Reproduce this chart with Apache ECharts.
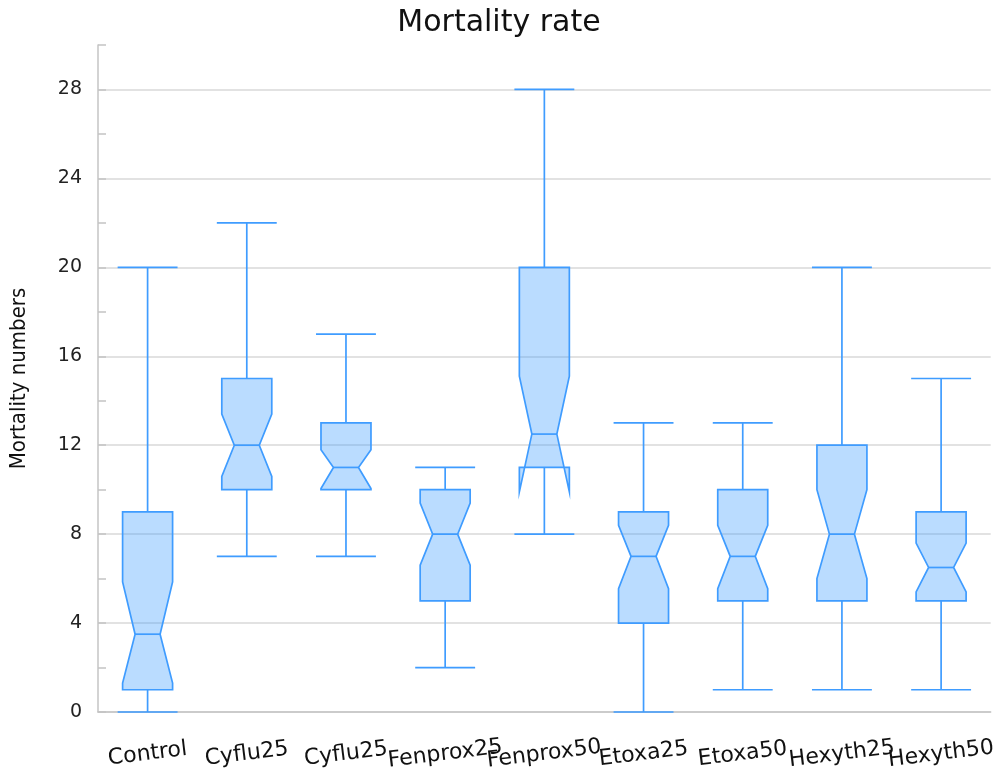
<!DOCTYPE html>
<html>
<head>
<meta charset="utf-8">
<script src="https://cdn.jsdelivr.net/npm/echarts@6/dist/echarts.min.js"></script>
<style>
  html, body { margin: 0; padding: 0; background: #fff; }
  #chart { width: 998px; height: 776px; }
</style>
</head>
<body>
<div id="chart"></div>
<script>
// ---- data ----
const categories = ['Control', 'Cyflu25', 'Cyflu25', 'Fenprox25', 'Fenprox50', 'Etoxa25', 'Etoxa50', 'Hexyth25', 'Hexyth50'];
const whiskerLow  = [0, 7, 7, 2, 8, 0, 1, 1, 1];
const q1Values    = [1, 10, 10, 5, 11, 4, 5, 5, 5];
const medians     = [3.5, 12, 11, 8, 12.5, 7, 7, 8, 6.5];
const q3Values    = [9, 15, 13, 10, 20, 9, 10, 12, 9];
const whiskerHigh = [20, 22, 17, 11, 28, 13, 13, 20, 15];
const notchLow    = [1.3, 10.6, 10.05, 6.6, 9.9, 5.55, 5.55, 6, 5.4];
const notchHigh   = [5.85, 13.4, 11.8, 9.4, 15.1, 8.4, 8.4, 10, 7.6];
const yTickLabels = [0, 4, 8, 12, 16, 20, 24, 28];

const boxData = categories.map((c, i) => [i, whiskerLow[i], q1Values[i], medians[i], q3Values[i], whiskerHigh[i], notchLow[i], notchHigh[i]]);

const STROKE = '#3f9cff';
const FILL = 'rgba(64,158,255,0.36)';

function renderItem(params, api) {
  const i = api.value(0);
  const band = api.size([1, 0])[0];
  const x = api.coord([i, 0])[0];
  const y = v => api.coord([i, v])[1];
  const wl = api.value(1), q1 = api.value(2), md = api.value(3), q3 = api.value(4), wh = api.value(5), nl = api.value(6), nh = api.value(7);
  const hb = band * 0.252;
  const hm = hb * 0.5;
  const hc = band * 0.302;
  const ls = { stroke: STROKE, lineWidth: 1.7 };
  return {
    type: 'group',
    children: [
      { type: 'line', shape: { x1: x, y1: y(q3), x2: x, y2: y(wh) }, style: ls },
      { type: 'line', shape: { x1: x, y1: y(q1), x2: x, y2: y(wl) }, style: ls },
      { type: 'line', shape: { x1: x - hc, y1: y(wh), x2: x + hc, y2: y(wh) }, style: ls },
      { type: 'line', shape: { x1: x - hc, y1: y(wl), x2: x + hc, y2: y(wl) }, style: ls },
      {
        type: 'polygon',
        shape: {
          points: [
            [x - hb, y(q1)], [x - hb, y(nl)], [x - hm, y(md)], [x - hb, y(nh)], [x - hb, y(q3)],
            [x + hb, y(q3)], [x + hb, y(nh)], [x + hm, y(md)], [x + hb, y(nl)], [x + hb, y(q1)]
          ]
        },
        style: { fill: FILL, stroke: STROKE, lineWidth: 1.7, lineJoin: 'miter' }
      },
      { type: 'line', shape: { x1: x - hm, y1: y(md), x2: x + hm, y2: y(md) }, style: ls }
    ]
  };
}

const chart = echarts.init(document.getElementById('chart'));
chart.setOption({
  backgroundColor: '#fff',
  animation: false,
  title: {
    text: 'Mortality rate',
    left: 'center',
    top: 3,
    textStyle: { fontFamily: 'DejaVu Sans', fontSize: 30, fontWeight: 'normal', color: '#111' }
  },
  grid: { left: 96, right: 6, top: 45, bottom: 64, containLabel: false },
  xAxis: {
    type: 'category',
    data: categories,
    boundaryGap: true,
    axisLine: { lineStyle: { color: '#c4c4c4', width: 1.5 } },
    axisTick: { alignWithLabel: true, length: 11, lineStyle: { color: '#c4c4c4', width: 1.5 } },
    splitLine: { show: false },
    axisLabel: {
      interval: 0,
      rotate: 7,
      align: 'center',
      verticalAlign: 'middle',
      margin: 42,
      fontFamily: 'DejaVu Sans',
      fontSize: 22,
      color: '#111'
    }
  },
  yAxis: {
    type: 'value',
    min: 0,
    max: 30,
    interval: 2,
    name: 'Mortality numbers',
    nameLocation: 'middle',
    nameGap: 68,
    nameTextStyle: { fontFamily: 'DejaVu Sans Condensed', fontSize: 22, color: '#111' },
    axisLine: { show: true, lineStyle: { color: '#c4c4c4', width: 1.5 } },
    axisTick: { show: true, inside: true, length: 8, lineStyle: { color: '#c4c4c4', width: 1.5 } },
    axisLabel: {
      margin: 16,
      fontFamily: 'DejaVu Sans',
      fontSize: 19,
      color: '#222',
      formatter: v => (yTickLabels.indexOf(v) >= 0 ? String(v) : '')
    },
    splitLine: { show: true, lineStyle: { color: ['#d9d9d9', 'rgba(0,0,0,0)'], width: 1.5 } }
  },
  series: [{
    type: 'custom',
    renderItem: renderItem,
    encode: { x: 0, y: [1, 5] },
    data: boxData,
    z: 5
  }]
});
</script>
</body>
</html>
